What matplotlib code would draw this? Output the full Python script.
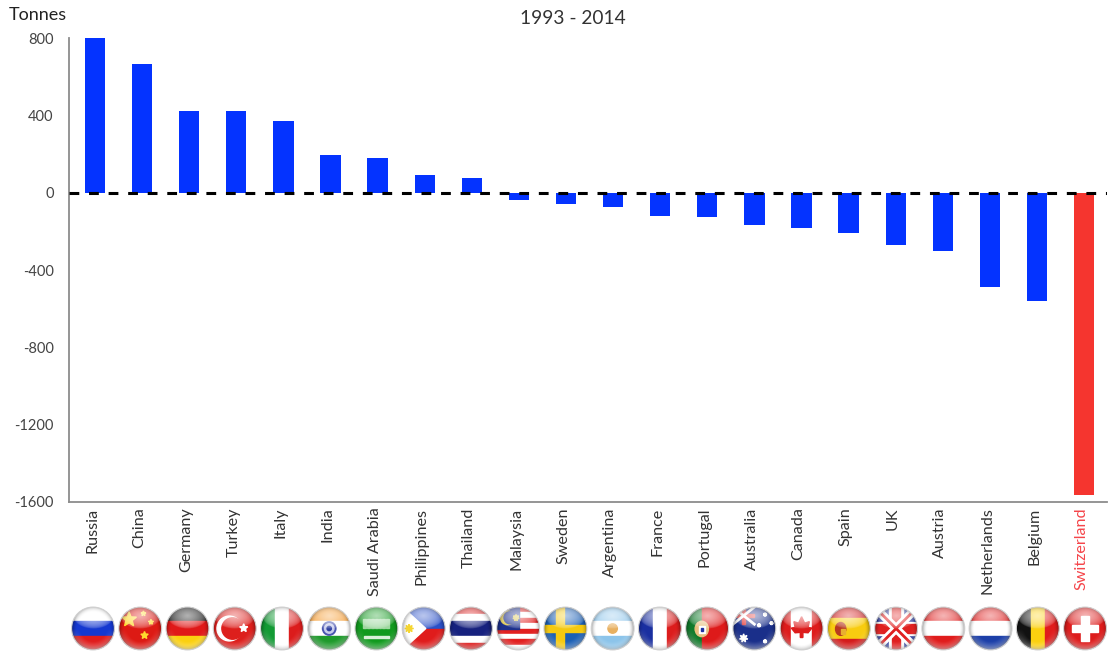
import numpy as np
import matplotlib
matplotlib.use('Agg')
import matplotlib.pyplot as plt
from matplotlib.patches import Circle, Rectangle, Polygon, Ellipse
from matplotlib.transforms import ScaledTranslation

plt.rcParams['font.family'] = ['Lato', 'DejaVu Sans']
plt.rcParams['axes.unicode_minus'] = False

countries = ['Russia', 'China', 'Germany', 'Turkey', 'Italy', 'India', 'Saudi Arabia',
             'Philippines', 'Thailand', 'Malaysia', 'Sweden', 'Argentina', 'France',
             'Portugal', 'Australia', 'Canada', 'Spain', 'UK', 'Austria', 'Netherlands',
             'Belgium', 'Switzerland']
tonnes = [800, 665, 425, 425, 370, 195, 180, 90, 75, -40, -60, -75, -120, -125,
          -165, -185, -210, -270, -300, -490, -560, -1565]
y_ticks = [800, 400, 0, -400, -800, -1200, -1600]

W, H = 1111, 657
BLUE = '#0433ff'
RED = '#f5352f'

fig = plt.figure(figsize=(W / 100, H / 100), dpi=100)
ax = fig.add_axes([69 / W, (H - 502) / H, (1107 - 69) / W, 464 / H])

x = np.arange(len(countries))
colors = [BLUE] * (len(countries) - 1) + [RED]
ax.bar(x, tonnes, width=0.43, color=colors, zorder=2)
ax.axhline(0, color='black', lw=2.2, dashes=(3.2, 3.2), zorder=3)

ax.set_xlim((69 - 95) / 47.1, (1107 - 95) / 47.1)
ax.set_ylim(-1600, 800)
ax.set_yticks(y_ticks)
ax.set_xticks(x)
ax.set_xticklabels(countries, rotation=90, fontsize=11.6, color='#333333')
ax.get_xticklabels()[-1].set_color('#f5454a')
ax.tick_params(axis='x', length=0, pad=4)
ax.tick_params(axis='y', length=0, pad=11, labelsize=10.5, labelcolor='#444444')
shift = ScaledTranslation(-2 / 72, 0, fig.dpi_scale_trans)
for lab in ax.get_xticklabels():
    lab.set_transform(lab.get_transform() + shift)
for s in ['top', 'right']:
    ax.spines[s].set_visible(False)
for s in ['left', 'bottom']:
    ax.spines[s].set_color('#8c8c8c')
    ax.spines[s].set_linewidth(1.3)

fig.text(9 / W, 1 - 15 / H, 'Tonnes', fontsize=13, color='#222222', va='center')
fig.text(573 / W, 1 - 18 / H, '1993 - 2014', fontsize=13.8, color='#333333', va='center', ha='center')


# flags, each in its own little axes from -1 to 1
def hbands(a, cols, lim=1.0):
    h = 2 / len(cols)
    for i, c in enumerate(cols):
        a.add_patch(Rectangle((-lim, 1 - (i + 1) * h), 2 * lim, h, color=c))


def vbands(a, cols):
    w = 2 / len(cols)
    for i, c in enumerate(cols):
        a.add_patch(Rectangle((-1 + i * w, -1), w, 2, color=c))


def star(a, cx, cy, r, c='#ffd92e', n=5):
    pts = []
    for k in range(2 * n):
        rr = r if k % 2 == 0 else r * 0.42
        ang = np.pi / 2 + k * np.pi / n
        pts.append((cx + rr * np.cos(ang), cy + rr * np.sin(ang)))
    a.add_patch(Polygon(pts, color=c))


def rect(a, x0, y0, w, h, c):
    a.add_patch(Rectangle((x0, y0), w, h, color=c))


def f_china(a):
    hbands(a, ['#dd1a14'])
    star(a, -0.52, 0.42, 0.36)
    star(a, 0.5, 0.3, 0.12)
    star(a, 0.2, -0.32, 0.18)
    star(a, 0.15, 0.7, 0.12)


def f_turkey(a):
    hbands(a, ['#dd1f1c'])
    a.add_patch(Circle((-0.25, 0), 0.58, color='white'))
    a.add_patch(Circle((-0.1, 0), 0.5, color='#dd1f1c'))
    star(a, 0.42, 0.02, 0.2, 'white')


def f_india(a):
    hbands(a, ['#f59a2e', 'white', '#1f9a2c'])
    a.add_patch(Circle((0, 0), 0.3, fc='#c8ccec', ec='#4a55b0', lw=1.4))
    a.add_patch(Circle((0, 0), 0.1, color='#3040a0'))


def f_saudi(a):
    hbands(a, ['#119a1e'])
    for i in range(7):
        rect(a, -0.62 + i * 0.18, 0.02, 0.13, 0.42, '#9fd8a0')
    rect(a, -0.6, -0.42, 1.2, 0.05, '#d8f0d8')


def f_phil(a):
    hbands(a, ['#2a50c8', '#e01c1c'])
    a.add_patch(Polygon([(-1.1, 1.1), (0.1, 0), (-1.1, -1.1)], color='white'))
    star(a, -0.68, 0, 0.2, '#f5d530', n=8)


def f_malaysia(a):
    hbands(a, ['#e22020', 'white'] * 4)
    rect(a, -1, 0, 1.05, 1, '#1c2f8c')
    a.add_patch(Circle((-0.5, 0.5), 0.32, color='#d8c040'))
    a.add_patch(Circle((-0.38, 0.5), 0.28, color='#1c2f8c'))
    star(a, -0.1, 0.5, 0.15, '#d8c040', n=7)


def f_sweden(a):
    hbands(a, ['#1b5fb5'])
    rect(a, -1, -0.18, 2, 0.36, '#f5c90f')
    rect(a, -0.42, -1, 0.36, 2, '#f5c90f')


def f_argentina(a):
    hbands(a, ['#8cc4ea', 'white', '#8cc4ea'])
    a.add_patch(Circle((0, 0), 0.22, color='#e8b060'))


def f_portugal(a):
    rect(a, -1, -1, 0.75, 2, '#0f7a2a')
    rect(a, -0.25, -1, 1.25, 2, '#de1a1a')
    a.add_patch(Ellipse((-0.25, -0.02), 0.62, 0.72, color='#e8c080'))
    rect(a, -0.38, -0.2, 0.26, 0.32, 'white')
    rect(a, -0.3, -0.1, 0.1, 0.14, '#2030a0')


def f_australia(a):
    hbands(a, ['#1a2f8a'])
    a.plot([-1, 0], [1, 0.2], color='white', lw=2)
    a.plot([-1, 0], [0.2, 1], color='white', lw=2)
    rect(a, -0.58, 0.2, 0.12, 0.8, '#e03030')
    rect(a, -1, 0.54, 1, 0.12, '#e03030')
    star(a, -0.5, -0.45, 0.2, 'white', n=7)
    for px, py in [(0.5, 0.65), (0.22, 0.15), (0.8, 0.25), (0.5, -0.6)]:
        star(a, px, py, 0.09, 'white', n=7)


def f_canada(a):
    vbands(a, ['#dd1c1c', 'white', 'white', '#dd1c1c'])
    a.add_patch(Polygon([(0, 0.55), (0.14, 0.25), (0.36, 0.32), (0.3, 0.05), (0.48, 0.02),
                         (0.3, -0.2), (0.06, -0.18), (0.06, -0.42), (-0.06, -0.42),
                         (-0.06, -0.18), (-0.3, -0.2), (-0.48, 0.02), (-0.3, 0.05),
                         (-0.36, 0.32), (-0.14, 0.25)], color='#dd1c1c'))


def f_spain(a):
    hbands(a, ['#d41c1c', '#f8cc10', '#f8cc10', '#d41c1c'])
    a.add_patch(Ellipse((-0.38, -0.02), 0.48, 0.6, color='#b83a20'))
    rect(a, -0.38, -0.25, 0.2, 0.25, '#e8b030')


def f_uk(a):
    hbands(a, ['#25369a'])
    a.plot([-1, 1], [-1, 1], color='white', lw=6)
    a.plot([-1, 1], [1, -1], color='white', lw=6)
    a.plot([-1, 1], [-1, 1], color='#e02020', lw=2)
    a.plot([-1, 1], [1, -1], color='#e02020', lw=2)
    rect(a, -1, -0.32, 2, 0.64, 'white')
    rect(a, -0.32, -1, 0.64, 2, 'white')
    rect(a, -1, -0.2, 2, 0.4, '#e02020')
    rect(a, -0.2, -1, 0.4, 2, '#e02020')


def f_swiss(a):
    hbands(a, ['#dd1c1c'])
    rect(a, -0.6, -0.18, 1.2, 0.36, 'white')
    rect(a, -0.18, -0.6, 0.36, 1.2, 'white')


flag_draw = {
    'Russia': lambda a: hbands(a, ['white', '#1538d0', '#e01c1c']),
    'China': f_china,
    'Germany': lambda a: hbands(a, ['#151515', '#e01818', '#fbd00f']),
    'Turkey': f_turkey,
    'Italy': lambda a: vbands(a, ['#129a34', 'white', '#dc1c1c']),
    'India': f_india,
    'Saudi Arabia': f_saudi,
    'Philippines': f_phil,
    'Thailand': lambda a: hbands(a, ['#dc1c1c', 'white', '#16217e', '#16217e', 'white', '#dc1c1c']),
    'Malaysia': f_malaysia,
    'Sweden': f_sweden,
    'Argentina': f_argentina,
    'France': lambda a: vbands(a, ['#1a2fa0', 'white', '#dc1c1c']),
    'Portugal': f_portugal,
    'Australia': f_australia,
    'Canada': f_canada,
    'Spain': f_spain,
    'UK': f_uk,
    'Austria': lambda a: hbands(a, ['#e01c1c', 'white', '#e01c1c']),
    'Netherlands': lambda a: hbands(a, ['#e01c1c', 'white', '#1c3fa8']),
    'Belgium': lambda a: vbands(a, ['#111111', '#fbd00f', '#e01c1c']),
    'Switzerland': f_swiss,
}

# glossy shading shared by all flags
g = np.linspace(-1, 1, 90)
gx, gy = np.meshgrid(g, g)
rad = np.hypot(gx, gy)
gloss = np.zeros((90, 90, 4))
top = np.clip(1 - np.hypot(gx / 0.95, (gy - 0.6) / 0.6), 0, 1) ** 0.45 * 0.68
low = np.clip((rad - 0.6) / 0.4, 0, 1) * np.clip(-gy, 0, 1) * 0.5
gloss[..., :3] = 1
gloss[..., 3] = np.clip(top + low, 0, 1)
rim = np.zeros((90, 90, 4))
rim[..., 3] = np.clip((rad - 0.75) / 0.25, 0, 1) ** 2 * 0.35

r = 22.5
for i, name in enumerate(countries):
    cx = 93 + i * 47.24
    cy = 628.5
    fa = fig.add_axes([(cx - r) / W, (H - cy - r) / H, 2 * r / W, 2 * r / H])
    fa.axis('off')
    flag_draw[name](fa)
    clip = Circle((0, 0), 1, transform=fa.transData)
    for art in fa.patches + fa.lines:
        art.set_clip_path(clip)
    im1 = fa.imshow(rim, extent=(-1, 1, -1, 1), origin='lower', zorder=5, aspect='auto')
    im2 = fa.imshow(gloss, extent=(-1, 1, -1, 1), origin='lower', zorder=6, aspect='auto')
    im1.set_clip_path(clip)
    im2.set_clip_path(clip)
    fa.add_patch(Circle((0, 0), 1, fc='none', ec='#d0d0d0', lw=0.8, zorder=7))
    fa.set_xlim(-1.05, 1.05)
    fa.set_ylim(-1.05, 1.05)

fig.savefig('out.png', dpi=100)
